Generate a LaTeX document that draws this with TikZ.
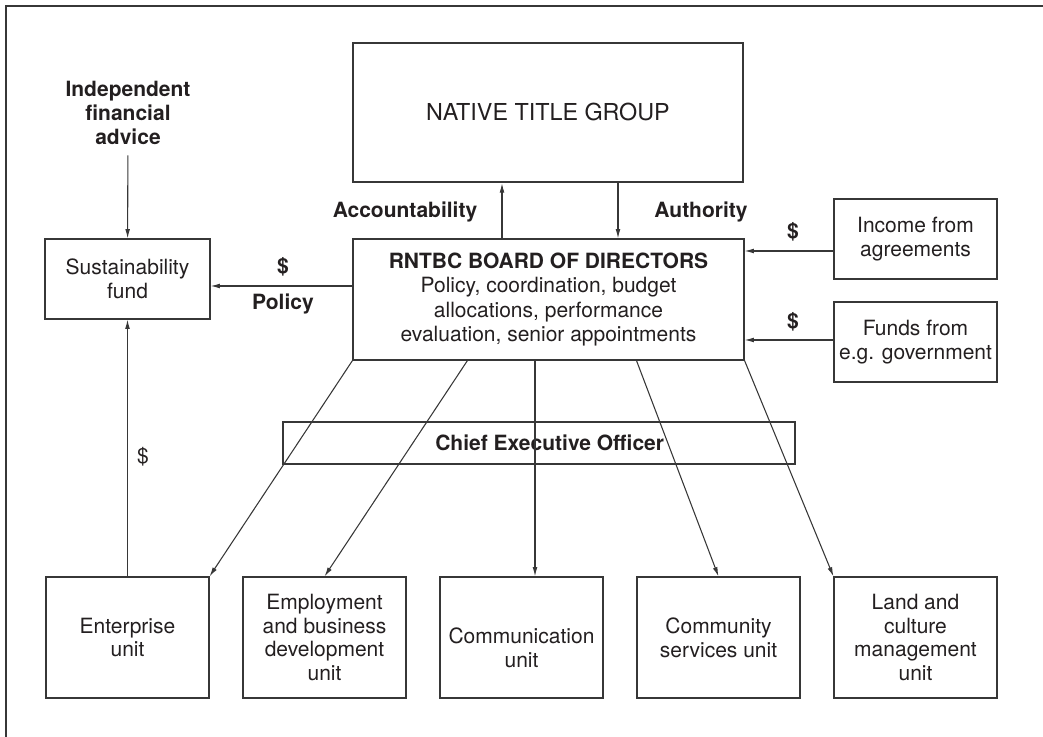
\documentclass[tikz,border=0pt]{standalone}
\usepackage{fontspec}
\setmainfont{TeX Gyre Heros}
\usetikzlibrary{arrows.meta}
\newlength\pxu
\setlength\pxu{0.75pt}
\definecolor{ink}{RGB}{35,31,32}
\definecolor{rule}{RGB}{55,55,55}
\newcommand\diagtext{\fontsize{15.75pt}{17.8pt}\selectfont}
\newcommand\titletext{\fontsize{17.5pt}{21pt}\selectfont}
\begin{document}
\begin{tikzpicture}[x=0.75pt, y=-0.75pt,
  box/.style={draw=rule, line width=0.8pt, text=ink, align=center, inner sep=0pt, font=\diagtext},
  unitbox/.style={box, minimum width=163\pxu, minimum height=121\pxu},
  sidebox/.style={box, minimum width=163\pxu, minimum height=80\pxu},
  arr/.style={draw=rule, line width=0.8pt, -{Latex[length=7pt,width=3.6pt]}},
  lbl/.style={text=ink, font=\diagtext\bfseries, inner sep=0pt, align=center},
  plain/.style={text=ink, font=\diagtext, inner sep=0pt, align=center}]
\useasboundingbox (0,0) rectangle (1043,737);
% outer frame
\draw[rule, line width=0.8pt] (6,760) -- (6,6) -- (1060,6);

% top level
\node[box, line width=1.9pt, minimum width=390\pxu, minimum height=139\pxu, font=\titletext] (ntg) at (548,112.5) {NATIVE TITLE GROUP};
\node[box, font=\fontsize{15.75pt}{18.2pt}\selectfont, minimum width=391\pxu, minimum height=121\pxu] (board) at (548.5,299.5)
  {\textbf{RNTBC BOARD OF DIRECTORS}\\Policy, coordination, budget\\allocations, performance\\evaluation, senior appointments};

% side boxes
\node[lbl] (ifa) at (128,113) {Independent\\financial\\advice};
\node[sidebox, minimum width=165\pxu] (sust) at (127.5,279) {Sustainability\\fund};
\node[sidebox] (income) at (915.5,239) {Income from\\agreements};
\node[sidebox] (funds) at (915.5,342) {Funds from\\e.g. government};

% chief executive band
\node[box, minimum width=512\pxu, minimum height=42\pxu, font=\diagtext\bfseries] (ceo) at (539,443) {\hspace*{16pt}Chief Executive Officer};

% units
\node[unitbox] (ent) at (127.5,637.5) {Enterprise\\unit};
\node[unitbox] (emp) at (324.5,637.5) {Employment\\and business\\development\\unit};
\node[unitbox, label={[plain, yshift=-8pt]center:Communication\\unit}] (comm) at (521.5,637.5) {};
\node[unitbox] (cmty) at (718.5,637.5) {Community\\services unit};
\node[unitbox] (land) at (915.5,637.5) {Land and\\culture\\management\\unit};

% labels
\node[lbl] (acc) at (405,212) {Accountability};
\node[lbl] (auth) at (701,212) {Authority};
\node[lbl] (poldollar) at (283,267) {\$};
\node[lbl] (pol) at (283,304) {Policy};
\node[lbl] (incdollar) at (793,232) {\$};
\node[lbl] (fundollar) at (793,322) {\$};
\node[plain] (entdollar) at (143,457) {\$};

% guide coordinates
\coordinate (ax) at (502,0);
\coordinate (bx) at (618,0);
\coordinate (cx) at (535,0);
\coordinate (py) at (0,286);
\coordinate (iy) at (0,251);
\coordinate (fy) at (0,340);

% connectors
\draw[arr, shorten <=8pt] (ifa) -- (sust);
\draw[arr] (board.north -| ax) -- (ntg.south -| ax);
\draw[arr] (ntg.south -| bx) -- (board.north -| bx);
\draw[arr] (board.west |- py) -- (sust.east |- py);
\draw[arr] (income.west |- iy) -- (board.east |- iy);
\draw[arr] (funds.west |- fy) -- (board.east |- fy);
\draw[arr] (ent) -- (sust);
\draw[arr] (board.south west) -- (ent.north east);
\draw[arr] (board.south west) ++(115,0) -- (emp.north);
\draw[arr] (board.south -| cx) -- (comm.north -| cx);
\draw[arr] (board.south west) ++(284,0) -- (cmty.north);
\draw[arr] (board.south east) -- (land.north west);
\end{tikzpicture}
\end{document}
